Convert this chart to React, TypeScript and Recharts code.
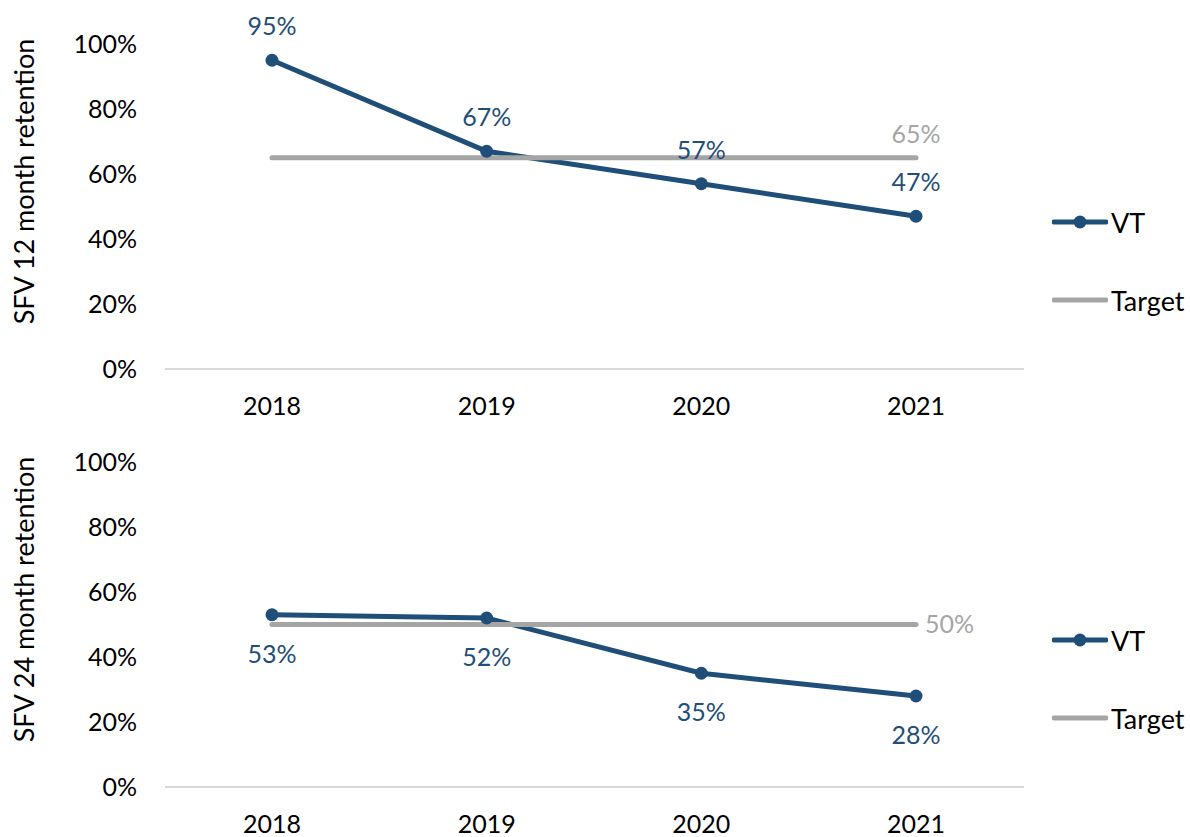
import { LineChart, Line, XAxis, YAxis, Legend, LabelList, Label } from 'recharts';

// Two stacked retention panels (12 month / 24 month), values in percent.
const YEARS = ['2018', '2019', '2020', '2021'];
const VT_12M = [95, 67, 57, 47];
const TARGET_12M = [65, 65, 65, 65];
const VT_24M = [53, 52, 35, 28];
const TARGET_24M = [50, 50, 50, 50];
const Y_TICKS = [0, 20, 40, 60, 80, 100];
const SERIES_ORDER = ['VT', 'Target'];

const VT_COLOR = '#1F4E79';
const TARGET_COLOR = '#A5A5A5';
const AXIS_COLOR = '#D9D9D9';
const FONT = 'Lato, "Noto Sans", sans-serif';
const FS = 25;
const FS_TITLE = 27;

const pct = (v: number) => `${v}%`;

function renderTitle(title: string) {
  return (props: any) => {
    const vb = props.viewBox || { x: 0, y: 0, width: 0, height: 0 };
    const cx = vb.x + 23;
    const cy = vb.y + vb.height / 2 - 25;
    return (
      <text
        x={cx}
        y={cy}
        transform={`rotate(-90 ${cx} ${cy})`}
        textAnchor="middle"
        dominantBaseline="central"
        fill="#000"
        fontSize={FS_TITLE}
        fontFamily={FONT}
      >
        {title}
      </text>
    );
  };
}

// Target value is only labelled on its last point (above or to the right).
function targetLabel(pos: 'top' | 'right', last: number) {
  return (props: any) => {
    if (props.index !== last) return null;
    const vb = props.viewBox || {};
    const x = vb.x ?? props.x;
    const y = vb.y ?? props.y;
    return pos === 'top' ? (
      <text x={x} y={y - 15} textAnchor="middle" fill={TARGET_COLOR} fontSize={FS} fontFamily={FONT}>
        {pct(props.value)}
      </text>
    ) : (
      <text x={x + 9} y={y} dy="0.35em" textAnchor="start" fill={TARGET_COLOR} fontSize={FS} fontFamily={FONT}>
        {pct(props.value)}
      </text>
    );
  };
}

function LegendBox({ payload }: any) {
  const items = [...(payload || [])].sort(
    (a: any, b: any) => SERIES_ORDER.indexOf(a.value) - SERIES_ORDER.indexOf(b.value)
  );
  return (
    <div style={{ fontFamily: FONT, fontSize: FS_TITLE, color: '#000' }}>
      {items.map((p: any) => (
        <div key={p.value} style={{ height: 78, display: 'flex', alignItems: 'center' }}>
          <svg width={56} height={16} style={{ marginRight: 3 }}>
            <line x1={2} y1={8} x2={54} y2={8} stroke={p.color} strokeWidth={5} strokeLinecap="round" />
            {p.value === 'VT' && <circle cx={28} cy={8} r={6.5} fill={p.color} />}
          </svg>
          <span>{p.value}</span>
        </div>
      ))}
    </div>
  );
}

function Panel({
  title,
  vt,
  target,
  vtPos,
  targetPos,
}: {
  title: string;
  vt: number[];
  target: number[];
  vtPos: 'top' | 'bottom';
  targetPos: 'top' | 'right';
}) {
  const data = YEARS.map((year, i) => ({ year, vt: vt[i], target: target[i] }));
  return (
    <LineChart width={1190} height={419} data={data} margin={{ top: 44, right: 166, bottom: 0, left: 0 }}>
      <XAxis
        dataKey="year"
        height={50}
        padding={{ left: 107, right: 108 }}
        axisLine={{ stroke: AXIS_COLOR, strokeWidth: 2 }}
        tickLine={false}
        tickSize={0}
        tickMargin={28}
        tick={{ fill: '#000', fontSize: FS, fontFamily: FONT }}
      />
      <YAxis
        type="number"
        domain={[0, 100]}
        ticks={Y_TICKS}
        tickFormatter={pct}
        width={165}
        axisLine={false}
        tickLine={false}
        tickSize={0}
        tickMargin={28}
        tick={{ fill: '#000', fontSize: FS, fontFamily: FONT }}
      >
        <Label content={renderTitle(title)} />
      </YAxis>
      <Legend
        layout="vertical"
        align="center"
        verticalAlign="middle"
        content={<LegendBox />}
        wrapperStyle={{ left: 1052, top: 183, width: 'auto', height: 'auto' }}
      />
      <Line
        dataKey="vt"
        name="VT"
        stroke={VT_COLOR}
        strokeWidth={5}
        dot={{ r: 6.5, fill: VT_COLOR, stroke: VT_COLOR, strokeWidth: 0 }}
        activeDot={false}
        isAnimationActive={false}
      >
        <LabelList
          dataKey="vt"
          position={vtPos}
          offset={vtPos === 'top' ? 25 : 30}
          formatter={(v: any) => pct(v)}
          fill={VT_COLOR}
          fontSize={FS}
          fontFamily={FONT}
        />
      </Line>
      <Line
        dataKey="target"
        name="Target"
        stroke={TARGET_COLOR}
        strokeWidth={5}
        strokeLinecap="round"
        dot={false}
        activeDot={false}
        isAnimationActive={false}
      >
        <LabelList dataKey="target" content={targetLabel(targetPos, YEARS.length - 1)} />
      </Line>
    </LineChart>
  );
}

export default function App() {
  return (
    <div style={{ position: 'absolute', left: 0, top: 0, width: 1190, height: 837, background: '#fff', overflow: 'hidden' }}>
      <div style={{ position: 'absolute', left: 0, top: 0 }}>
        <Panel title="SFV 12 month retention" vt={VT_12M} target={TARGET_12M} vtPos="top" targetPos="top" />
      </div>
      <div style={{ position: 'absolute', left: 0, top: 418 }}>
        <Panel title="SFV 24 month retention" vt={VT_24M} target={TARGET_24M} vtPos="bottom" targetPos="right" />
      </div>
    </div>
  );
}
